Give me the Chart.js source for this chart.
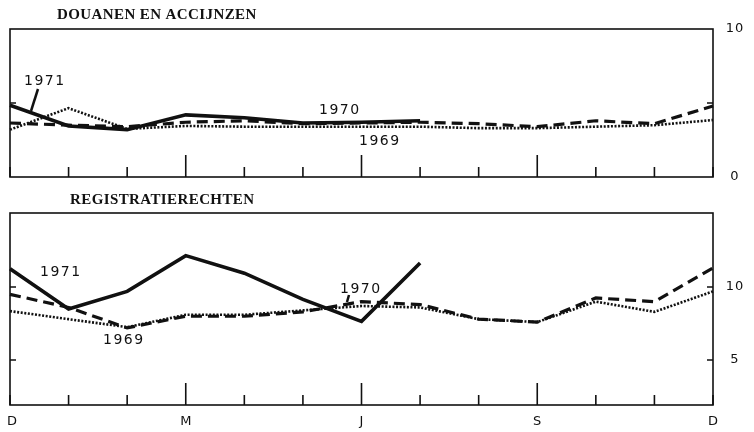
<!DOCTYPE html>
<html>
<head>
<meta charset="utf-8">
<script src="https://cdn.jsdelivr.net/npm/chart.js@4/dist/chart.umd.min.js"></script>
<style>
  body { margin: 0; background: #fff; }
  .wrap { position: absolute; left: 0; width: 754px; }
  canvas { display: block; }
</style>
</head>
<body>
<div class="wrap" style="top:0;height:185px"><canvas id="top" width="754" height="185"></canvas></div>
<div class="wrap" style="top:185px;height:247px"><canvas id="bottom" width="754" height="247"></canvas></div>
<script>
const maanden = ["D", "J", "F", "M", "A", "M", "J", "J", "A", "S", "O", "N", "D"];
const maandLabels = ["D", "", "", "M", "", "", "J", "", "", "S", "", "", "D"];

// Douanen en accijnzen
const douanen1969 = [3.2, 4.65, 3.25, 3.45, 3.4, 3.4, 3.4, 3.4, 3.3, 3.3, 3.4, 3.5, 3.85];
const douanen1970 = [3.65, 3.5, 3.4, 3.7, 3.8, 3.6, 3.65, 3.7, 3.6, 3.4, 3.8, 3.6, 4.8];
const douanen1971 = [4.85, 3.45, 3.2, 4.2, 4.0, 3.65, 3.7, 3.8];

// Registratierechten
const registratie1969 = [8.35, 7.8, 7.25, 8.1, 8.1, 8.4, 8.7, 8.6, 7.8, 7.6, 9.0, 8.3, 9.7];
const registratie1970 = [9.5, 8.6, 7.2, 8.0, 8.0, 8.3, 9.0, 8.8, 7.8, 7.6, 9.25, 9.0, 11.3];
const registratie1971 = [11.25, 8.5, 9.7, 12.15, 10.95, 9.15, 7.65, 11.65];

function reeksen(d69, d70, d71) {
    return [
        { label: "1969", data: d69, borderColor: "#111", borderWidth: 2.6, borderDash: [2, 1.6], pointRadius: 0, tension: 0 },
        { label: "1970", data: d70, borderColor: "#111", borderWidth: 3.2, borderDash: [11, 6], pointRadius: 0, tension: 0 },
        { label: "1971", data: d71, borderColor: "#111", borderWidth: 3.6, pointRadius: 0, tension: 0 }
    ];
}

function tekst(ctx, s, x, y, font, spacing) {
    ctx.font = font;
    ctx.letterSpacing = (spacing || 0) + "px";
    ctx.fillText(s, x, y);
    ctx.letterSpacing = "0px";
}

// kader, maandstreepjes en y-streepjes
const kaderPlugin = {
    id: "kader",
    afterDatasetsDraw(chart, args, opts) {
        const ctx = chart.ctx;
        const a = chart.chartArea;
        const x = chart.scales.x, y = chart.scales.y;
        ctx.save();
        ctx.strokeStyle = "#111";
        ctx.lineWidth = 1.6;
        ctx.strokeRect(a.left, a.top, a.right - a.left, a.bottom - a.top);
        maanden.forEach((m, i) => {
            const px = x.getPixelForValue(i);
            const len = (i % 3 === 0 && i !== 0 && i !== 12) ? 22 : 10;
            ctx.beginPath();
            ctx.moveTo(px, a.bottom);
            ctx.lineTo(px, a.bottom - len);
            ctx.stroke();
        });
        opts.yTicks.forEach(v => {
            const py = y.getPixelForValue(v);
            ctx.beginPath();
            ctx.moveTo(a.left, py); ctx.lineTo(a.left + 6, py);
            ctx.moveTo(a.right, py); ctx.lineTo(a.right - 6, py);
            ctx.stroke();
        });
        ctx.fillStyle = "#111";
        ctx.textAlign = "center";
        ctx.textBaseline = "middle";
        opts.yLabels.forEach(v => {
            tekst(ctx, String(v), a.right + 22, y.getPixelForValue(v), "13px 'DejaVu Sans'", 1);
        });
        if (opts.maandAs) {
            maandLabels.forEach((m, i) => {
                if (!m) return;
                tekst(ctx, m, x.getPixelForValue(i) + (i === 0 ? 2 : 0), a.bottom + 17, "13px 'DejaVu Sans'", 0);
            });
        }
        ctx.textAlign = "left";
        tekst(ctx, opts.titel, opts.titelX, opts.titelY, "bold 15px 'Liberation Serif'", 0.4);
        opts.notes.forEach(n => {
            tekst(ctx, n.t, n.x, n.y, "14px 'DejaVu Sans'", 1.5);
        });
        if (opts.pijl) {
            ctx.lineWidth = 2.5;
            ctx.beginPath();
            ctx.moveTo(opts.pijl[0], opts.pijl[1]);
            ctx.lineTo(opts.pijl[2], opts.pijl[3]);
            ctx.stroke();
        }
        ctx.restore();
    }
};

function maakGrafiek(id, d69, d70, d71, yMin, yMax, pad, extra) {
    return new Chart(document.getElementById(id), {
        type: "line",
        data: { labels: maanden, datasets: reeksen(d69, d70, d71) },
        options: {
            responsive: false,
            animation: false,
            layout: { padding: pad },
            scales: {
                x: { display: false },
                y: { display: false, min: yMin, max: yMax }
            },
            plugins: {
                legend: { display: false },
                tooltip: { enabled: false },
                kader: extra
            }
        },
        plugins: [kaderPlugin]
    });
}

maakGrafiek("top", douanen1969, douanen1970, douanen1971, 0, 10,
    { left: 10, right: 41, top: 29, bottom: 8 },
    {
        yTicks: [5], yLabels: [0, 10], maandAs: false,
        titel: "DOUANEN EN ACCIJNZEN", titelX: 57, titelY: 15,
        notes: [
            { t: "1971", x: 24, y: 81 },
            { t: "1970", x: 319, y: 110 },
            { t: "1969", x: 359, y: 141 }
        ],
        pijl: [38, 89, 31, 111]
    });

maakGrafiek("bottom", registratie1969, registratie1970, registratie1971, 1.92, 15.07,
    { left: 10, right: 41, top: 28, bottom: 27 },
    {
        yTicks: [5, 10], yLabels: [5, 10], maandAs: true,
        titel: "REGISTRATIERECHTEN", titelX: 70, titelY: 15,
        notes: [
            { t: "1971", x: 40, y: 87 },
            { t: "1969", x: 103, y: 155 },
            { t: "1970", x: 340, y: 104 }
        ],
        pijl: [349, 110, 347, 117]
    });
</script>
</body>
</html>
